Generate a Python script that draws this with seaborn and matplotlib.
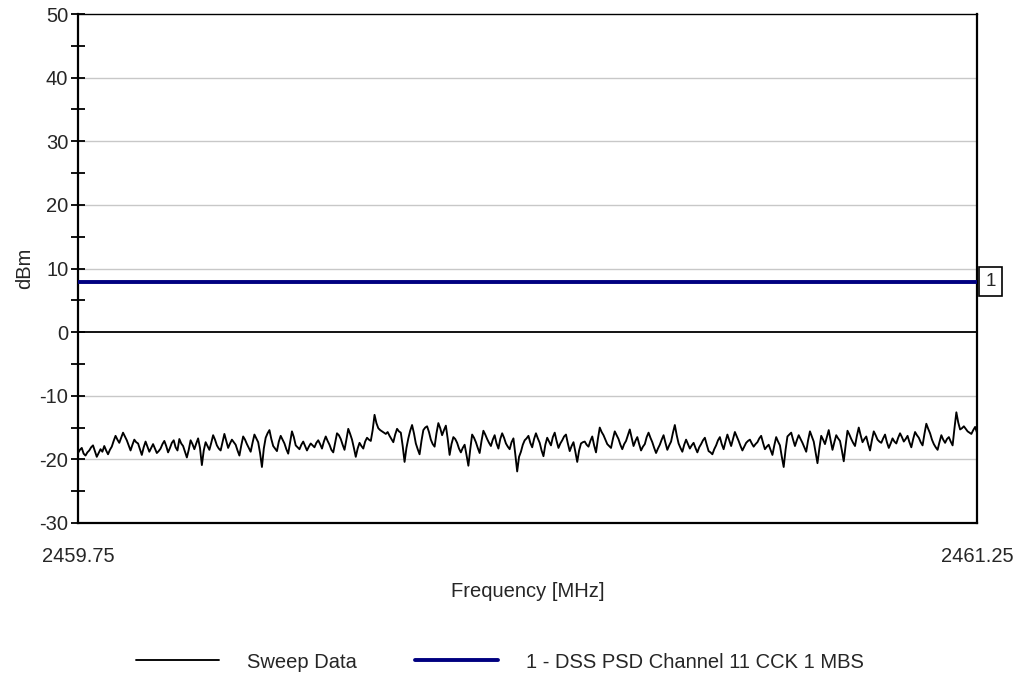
import numpy as np
import pandas as pd
import matplotlib
matplotlib.use("Agg")
import matplotlib.pyplot as plt
from matplotlib.ticker import MultipleLocator
import seaborn as sns

# ---- data ----
freq_start = 2459.75
freq_stop = 2461.25
limit_level = 7.9
limit_label = "1 - DSS PSD Channel 11 CCK 1 MBS"
sweep_label = "Sweep Data"
marker_text = "1"
y_ticks = [-30, -20, -10, 0, 10, 20, 30, 40, 50]
x_tick_labels = ["2459.75", "2461.25"]

sweep_dbm = [
    -19.0, -18.5, -18.2, -19.1, -19.4, -18.9, -18.6, -18.1, -17.8, -18.7, -19.6, -19.0, -18.4, -18.8, -17.9, -18.6, -19.2, -18.5, -18.0, -17.1,
    -16.3, -16.9, -17.4, -16.6, -15.8, -16.4, -17.0, -17.8, -18.6, -17.7, -16.9, -17.3, -17.5, -18.4, -19.3, -18.1, -17.2, -18.0, -18.8, -18.2,
    -17.6, -18.3, -19.0, -18.7, -18.3, -17.6, -17.1, -17.9, -18.9, -18.2, -17.4, -17.0, -18.1, -18.6, -16.8, -17.5, -17.9, -18.8, -19.7, -18.5,
    -17.0, -17.6, -18.4, -17.5, -16.7, -18.2, -20.9, -18.6, -17.3, -17.9, -18.5, -17.4, -16.2, -16.9, -17.8, -18.3, -18.6, -17.3, -16.0, -17.1,
    -18.2, -17.5, -16.9, -17.3, -17.7, -18.6, -19.4, -17.8, -16.4, -16.9, -17.6, -18.2, -18.8, -17.4, -16.1, -16.7, -17.3, -19.0, -21.2, -18.3,
    -16.6, -15.9, -15.4, -16.8, -17.9, -18.3, -18.7, -17.2, -16.3, -16.9, -17.5, -18.4, -19.1, -17.3, -15.6, -16.5, -17.8, -18.1, -18.4, -17.7,
    -17.2, -17.9, -18.6, -18.0, -17.5, -17.8, -18.1, -17.4, -17.0, -17.6, -18.3, -17.2, -16.4, -17.1, -17.7, -18.5, -18.9, -17.4, -15.9, -16.2,
    -16.8, -17.7, -18.5, -16.9, -15.2, -16.0, -16.9, -18.2, -19.6, -18.3, -17.4, -17.9, -18.3, -17.2, -16.6, -16.9, -17.1, -15.4, -13.0, -14.3,
    -15.1, -15.4, -15.6, -15.8, -16.0, -15.7, -16.3, -16.8, -17.3, -16.1, -15.2, -15.6, -15.8, -17.9, -20.4, -18.2, -16.7, -15.5, -14.6, -15.9,
    -17.5, -18.4, -19.2, -17.1, -15.4, -15.0, -14.8, -15.7, -16.9, -17.6, -18.0, -15.9, -14.3, -15.1, -16.2, -15.4, -14.7, -16.8, -19.3, -17.6,
    -16.5, -16.8, -17.4, -18.3, -18.9, -18.2, -17.7, -19.3, -21.0, -18.4, -16.1, -16.6, -17.3, -18.2, -19.0, -17.1, -15.5, -16.1, -16.8, -17.4,
    -17.9, -16.9, -16.2, -17.5, -18.3, -16.8, -15.9, -16.6, -17.5, -18.0, -18.4, -17.3, -16.7, -19.2, -21.9, -19.6, -18.8, -17.7, -17.0, -16.7,
    -16.3, -17.4, -18.1, -16.8, -15.9, -16.7, -17.4, -18.6, -19.5, -17.7, -16.6, -17.2, -17.8, -16.5, -15.8, -17.1, -18.2, -17.5, -17.0, -16.4,
    -16.1, -17.5, -18.7, -17.9, -17.3, -18.8, -20.4, -18.6, -17.5, -17.3, -17.2, -17.7, -18.0, -17.1, -16.4, -17.8, -18.9, -16.8, -15.0, -15.7,
    -16.2, -16.9, -17.6, -17.9, -18.2, -16.8, -15.6, -16.2, -16.8, -17.7, -18.4, -17.6, -17.1, -16.2, -15.3, -16.6, -17.9, -17.1, -16.5, -17.6,
    -18.6, -18.0, -17.6, -16.5, -15.8, -16.6, -17.3, -18.2, -19.0, -18.3, -17.7, -16.9, -16.2, -17.4, -18.5, -17.8, -17.2, -15.8, -14.6, -16.2,
    -17.5, -18.2, -18.8, -17.7, -16.9, -17.6, -18.3, -17.8, -17.4, -18.2, -18.9, -18.1, -17.6, -17.0, -16.6, -17.7, -18.7, -18.9, -19.2, -18.4,
    -17.8, -17.0, -16.5, -17.6, -18.4, -17.2, -16.1, -17.0, -17.9, -16.8, -15.7, -16.4, -17.1, -17.9, -18.6, -18.0, -17.4, -17.1, -16.9, -17.5,
    -18.0, -17.6, -17.3, -16.7, -16.3, -17.4, -18.4, -18.0, -17.7, -18.5, -19.3, -17.8, -16.5, -17.2, -17.8, -19.6, -21.2, -18.5, -16.4, -16.1,
    -15.8, -16.9, -17.9, -17.0, -16.2, -16.8, -17.4, -18.1, -18.8, -17.0, -15.6, -16.4, -17.2, -18.9, -20.6, -18.3, -16.3, -16.9, -17.6, -16.5,
    -15.4, -17.0, -18.5, -17.3, -16.2, -16.7, -17.1, -18.6, -20.3, -17.8, -15.5, -16.1, -16.8, -17.4, -17.9, -16.3, -15.0, -16.2, -17.3, -16.8,
    -16.4, -17.6, -18.6, -17.0, -15.6, -16.2, -16.9, -17.2, -17.4, -16.7, -16.1, -17.3, -18.2, -17.5, -16.7, -17.2, -17.5, -16.6, -15.9, -16.5,
    -17.2, -16.8, -16.3, -17.3, -18.1, -16.8, -15.7, -16.2, -16.6, -17.3, -17.8, -16.0, -14.4, -15.2, -15.9, -16.9, -17.6, -18.1, -18.5, -17.3,
    -16.2, -16.9, -17.4, -16.8, -16.5, -17.2, -17.8, -15.1, -12.6, -14.2, -15.3, -15.1, -14.8, -15.2, -15.6, -15.8, -16.0, -15.4, -14.9, -15.8,
]

freqs = np.linspace(freq_start, freq_stop, len(sweep_dbm))
sweep_df = pd.DataFrame({"freq": freqs, "dbm": sweep_dbm})
limit_df = pd.DataFrame({"freq": [freq_start, freq_stop], "dbm": [limit_level, limit_level]})

# ---- style ----
sns.set_style("white")
plt.rcParams["font.family"] = ["Liberation Sans", "DejaVu Sans"]
plt.rcParams["axes.unicode_minus"] = False
FS = 14.5

fig = plt.figure(figsize=(10.23, 6.96), dpi=100)
ax = fig.add_axes([78 / 1023, 1 - 523 / 696, (977 - 78) / 1023, (523 - 14) / 696])

# grid lines
for yv in y_ticks:
    if yv == 0:
        ax.axhline(yv, color="black", lw=1.3, zorder=1)
    elif yv not in (-30, 50):
        ax.axhline(yv, color="#c8c8c8", lw=1.0, zorder=0)

sns.lineplot(data=sweep_df, x="freq", y="dbm", ax=ax, color="black", lw=1.35,
             label=sweep_label, zorder=3)
sns.lineplot(data=limit_df, x="freq", y="dbm", ax=ax, color="#000080", lw=2.8,
             label=limit_label, zorder=4)

ax.set_xlim(freq_start, freq_stop)
ax.set_ylim(-30, 50)
ax.set_yticks(y_ticks)
ax.yaxis.set_minor_locator(MultipleLocator(5))
ax.set_xticks([freq_start, freq_stop])
ax.set_xticklabels(x_tick_labels)

ax.tick_params(axis="y", which="both", direction="inout", length=10, width=1.3,
               color="black", labelsize=FS, pad=2, left=True)
ax.tick_params(axis="x", which="both", length=0, labelsize=FS, pad=17)

for side in ["left", "bottom", "right"]:
    ax.spines[side].set_color("black")
    ax.spines[side].set_linewidth(1.6)
ax.spines["top"].set_color("black")
ax.spines["top"].set_linewidth(1.0)

ax.set_xlabel("Frequency [MHz]", fontsize=FS, labelpad=12)
ax.set_ylabel("dBm", fontsize=FS, labelpad=4)

# limit marker box
ax.annotate(marker_text, xy=(1.0, limit_level), xycoords=("axes fraction", "data"),
            xytext=(6, 0), textcoords="offset points", ha="left", va="center",
            fontsize=FS - 1, annotation_clip=False,
            bbox=dict(boxstyle="square,pad=0.32", fc="white", ec="black", lw=1.2))

# legend
handles, labels = ax.get_legend_handles_labels()
ax.get_legend().remove()
fig.legend(handles, labels, loc="center", bbox_to_anchor=(500 / 1023, 1 - 662 / 696),
           ncol=2, frameon=False, fontsize=FS, handlelength=4.1, handletextpad=1.4,
           columnspacing=2.9)

fig.savefig("out.png", dpi=100)
